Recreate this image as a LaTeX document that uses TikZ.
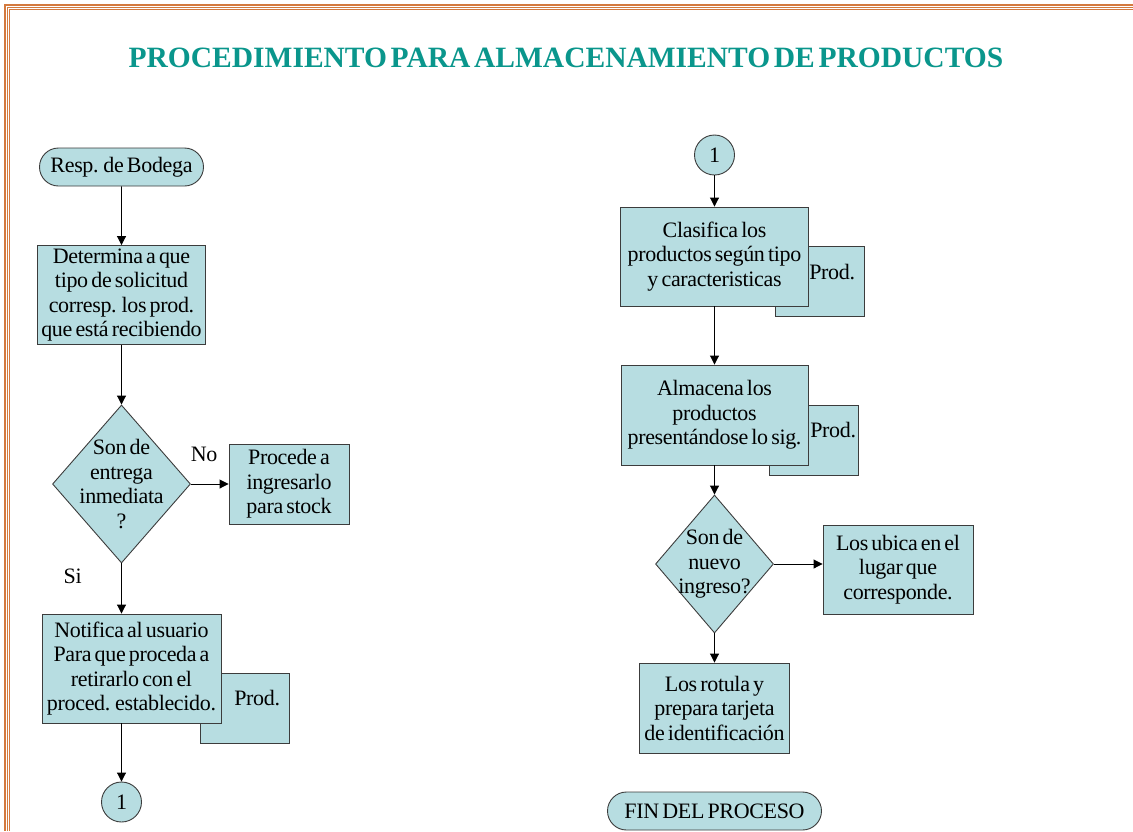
\documentclass[tikz,border=0pt]{standalone}
\usepackage{fontspec}
\setmainfont{Liberation Serif}[WordSpace=0.6,LetterSpace=-1.5]
\newfontfamily\titlefont{Liberation Serif}[WordSpace=0.5]
\usepackage{tikz}
\usetikzlibrary{arrows.meta,calc,positioning,shapes.geometric,shapes.misc}
\definecolor{boxfill}{RGB}{183,221,225}
\definecolor{boxline}{RGB}{60,60,60}
\definecolor{titleteal}{RGB}{10,150,140}
\definecolor{frameorange}{RGB}{212,122,62}

\begin{document}
\begin{tikzpicture}[x=1pt,y=1pt,->,>={Triangle[length=9pt,width=9pt]},line width=0.9pt,
font=\fontsize{22}{24.5}\selectfont]
\tikzstyle{every node}=[draw=none,text=black]
\tikzstyle{proc}=[rectangle,draw=boxline,fill=boxfill,align=center,inner xsep=1pt,inner ysep=2pt]
\tikzstyle{term}=[rounded rectangle,draw=boxline,fill=boxfill,inner sep=2pt]
\tikzstyle{conn}=[circle,draw=boxline,fill=boxfill,inner sep=0pt,minimum size=40pt]
\tikzstyle{decision}=[diamond,draw=boxline,fill=boxfill,inner sep=0pt]
\tikzstyle{prodbox}=[rectangle,draw=boxline,fill=boxfill,minimum width=89pt,minimum height=70pt,
text width=71pt,inner xsep=9pt,align=right,text depth=20pt]

\useasboundingbox (0,0) rectangle (1133,-831);

% marco
\foreach \d in {5,7.4,9.8}
  \draw[-,frameorange,line width=1.2pt] (\d,-831) -- (\d,-\d) -- (1133,-\d);

\node[font=\titlefont\fontsize{29.5}{31}\selectfont\bfseries,text=titleteal] (title) at (566,-58)
  {PROCEDIMIENTO PARA ALMACENAMIENTO DE PRODUCTOS};

% columna izquierda
\node[term,minimum width=168pt,minimum height=38pt] (resp) at (121.5,-167) {Resp. de Bodega};
\node[proc,minimum width=168pt,minimum height=99pt] (determina) [below of=resp,node distance=128pt]
  {Determina a que\\tipo de solicitud\\corresp. los prod.\\que está recibiendo};
\node[decision,minimum width=138pt,minimum height=158pt] (entrega) [below of=determina,node distance=189pt]
  {};
\node[align=center] at (entrega) {Son de\\entrega\\inmediata\\?};
\node[proc,minimum width=120pt,minimum height=80pt] (procede) [right of=entrega,node distance=167.5pt]
  {Procede a\\ingresarlo\\para stock};
\node[prodbox] (prodA) at (244.5,-708) {Prod.};
\node[proc,minimum width=179pt,minimum height=109pt] (notifica) at (131.5,-668.5)
  {Notifica al usuario\\Para que proceda a\\retirarlo con el\\proced. establecido.};
\node[conn] (unoA) at (121.5,-802) {1};

% columna derecha
\node[conn] (unoB) at (714.5,-155) {1};
\node[prodbox] (prodB) [right of=unoB,node distance=105pt,yshift=-126.5pt] {Prod.};
\node[proc,minimum width=188pt,minimum height=99pt] (clasifica) [below of=unoB,node distance=101.5pt]
  {Clasifica los\\productos según tipo\\y caracteristicas};
\node[prodbox,inner xsep=2pt,text width=85pt] (prodC) [right of=clasifica,node distance=99pt,yshift=-183.5pt] {Prod.};
\node[proc,minimum width=187pt,minimum height=100pt] (almacena) [below of=clasifica,node distance=158.5pt]
  {Almacena los\\productos\\presentándose lo sig.};
\node[decision,minimum width=118pt,minimum height=138pt] (nuevo) [below of=almacena,node distance=149pt]
  {};
\node[align=center] at (nuevo) {Son de\\nuevo\\ingreso?};
\node[proc,minimum width=150pt,minimum height=89pt] (ubica) [right of=nuevo,node distance=183.5pt,yshift=-5.5pt]
  {Los ubica en el\\lugar que\\corresponde.};
\node[proc,minimum width=150pt,minimum height=90pt] (rotula) [below of=nuevo,node distance=144pt]
  {Los rotula y\\prepara tarjeta\\de identificación};
\node[term,minimum width=218pt,minimum height=38pt] (fin) [below of=rotula,node distance=103pt] {FIN DEL PROCESO};

\path (resp) edge (determina)
(determina) edge (entrega)
(entrega) edge node[above,pos=0.35,yshift=19pt] {No} (procede)
(entrega) edge node[left,pos=0.25,xshift=-36pt] {Si} (entrega |- notifica.north)
(notifica.south -| unoA) edge (unoA)
(unoB) edge (clasifica)
(clasifica) edge (almacena)
(almacena) edge (nuevo)
(nuevo) edge (nuevo -| ubica.west)
(nuevo) edge (rotula);

\end{tikzpicture}
\end{document}
